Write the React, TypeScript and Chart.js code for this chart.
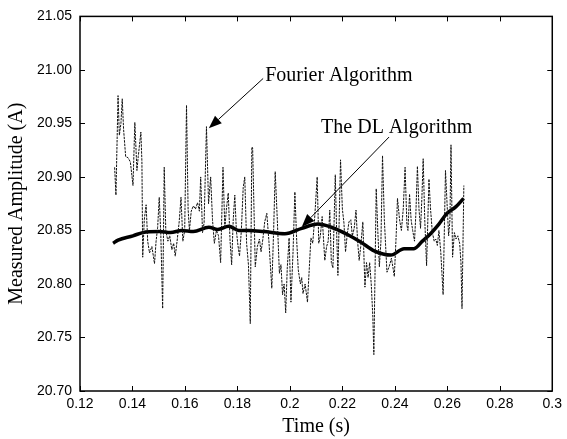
import React, { useEffect, useRef } from "react";
import { Chart, registerables } from "chart.js";

Chart.register(...registerables);

const fourierT = [
  0.1332, 0.1337, 0.1345, 0.135, 0.1356, 0.1361, 0.1366, 0.1374, 0.1383, 0.1392,
  0.1402, 0.1409, 0.1417, 0.1422, 0.1432, 0.1436, 0.1439, 0.1445, 0.1452, 0.1458,
  0.1465, 0.1474, 0.1484, 0.149, 0.1496, 0.1502, 0.1508, 0.1515, 0.1521, 0.1527,
  0.1535, 0.1542, 0.155, 0.1557, 0.1563, 0.157, 0.1578, 0.1585, 0.1592, 0.1599,
  0.1606, 0.1612, 0.1617, 0.1624, 0.1632, 0.164, 0.1648, 0.1655, 0.166, 0.1667,
  0.1673, 0.1682, 0.169, 0.1698, 0.1705, 0.1712, 0.172, 0.1728, 0.1736, 0.1745,
  0.1752, 0.1758, 0.1765, 0.1772, 0.1778, 0.1784, 0.179, 0.1796, 0.1802, 0.1808,
  0.1815, 0.1822, 0.1828, 0.1835, 0.1842, 0.1849, 0.1855, 0.1858, 0.1868, 0.1876,
  0.1884, 0.189, 0.1897, 0.1904, 0.1912, 0.192, 0.1931, 0.1938, 0.1944, 0.1952,
  0.196, 0.1966, 0.1972, 0.1978, 0.1984, 0.199, 0.1997, 0.2004, 0.2012, 0.2019,
  0.2026, 0.2032, 0.204, 0.2045, 0.205, 0.2058, 0.2067, 0.2074, 0.208, 0.2087,
  0.2094, 0.2104, 0.211, 0.2116, 0.2123, 0.2133, 0.214, 0.2146, 0.2152, 0.2158,
  0.2164, 0.2173, 0.2178, 0.2183, 0.2193, 0.22, 0.2206, 0.2212, 0.2218, 0.2225,
  0.2232, 0.2238, 0.2245, 0.2252, 0.2258, 0.2264, 0.227, 0.2278, 0.2286, 0.2292,
  0.2298, 0.2304, 0.231, 0.2316, 0.232, 0.2329, 0.2335, 0.2341, 0.2347, 0.2353,
  0.236, 0.2366, 0.237, 0.2378, 0.2387, 0.2393, 0.2398, 0.2405, 0.241, 0.2418,
  0.2425, 0.2432, 0.2439, 0.2446, 0.245, 0.2456, 0.2462, 0.2468, 0.2475, 0.248,
  0.2486, 0.2492, 0.2498, 0.2503, 0.2508, 0.2514, 0.2521, 0.253, 0.2536, 0.2543,
  0.255, 0.2556, 0.2562, 0.2568, 0.2575, 0.2584, 0.2593, 0.26, 0.2605, 0.261,
  0.2614, 0.262, 0.2627, 0.2633, 0.264, 0.2647, 0.2652, 0.2656, 0.2663,
];

const fourierV = [
  20.909, 20.883, 20.976, 20.939, 20.95, 20.973, 20.945, 20.919, 20.918, 20.914,
  20.892, 20.951, 20.906, 20.919, 20.942, 20.914, 20.825, 20.86, 20.874, 20.84,
  20.829, 20.835, 20.819, 20.84, 20.853, 20.881, 20.846, 20.777, 20.909, 20.85,
  20.84, 20.845, 20.832, 20.838, 20.826, 20.84, 20.858, 20.881, 20.84, 20.85,
  20.967, 20.87, 20.85, 20.868, 20.873, 20.87, 20.876, 20.868, 20.9, 20.848,
  20.857, 20.947, 20.875, 20.9, 20.86, 20.838, 20.85, 20.845, 20.82, 20.909,
  20.852, 20.87, 20.885, 20.84, 20.818, 20.86, 20.883, 20.85, 20.836, 20.826,
  20.85, 20.89, 20.9, 20.838, 20.818, 20.763, 20.928, 20.927, 20.816, 20.835,
  20.842, 20.83, 20.842, 20.858, 20.866, 20.84, 20.796, 20.85, 20.905, 20.86,
  20.81, 20.818, 20.79, 20.8, 20.773, 20.815, 20.843, 20.783, 20.83, 20.886,
  20.84, 20.813, 20.8, 20.806, 20.791, 20.8, 20.783, 20.815, 20.843, 20.838,
  20.86, 20.9, 20.838, 20.845, 20.863, 20.822, 20.835, 20.84, 20.869, 20.82,
  20.815, 20.902, 20.85, 20.808, 20.916, 20.87, 20.857, 20.83, 20.845, 20.858,
  20.86, 20.845, 20.852, 20.869, 20.84, 20.822, 20.835, 20.858, 20.797, 20.82,
  20.806, 20.82, 20.8, 20.77, 20.734, 20.889, 20.85, 20.816, 20.84, 20.92,
  20.86, 20.83, 20.811, 20.816, 20.824, 20.815, 20.807, 20.845, 20.88, 20.86,
  20.85, 20.87, 20.909, 20.855, 20.85, 20.884, 20.86, 20.85, 20.84, 20.865,
  20.91, 20.87, 20.852, 20.88, 20.917, 20.86, 20.817, 20.898, 20.87, 20.848,
  20.84, 20.842, 20.836, 20.85, 20.83, 20.79, 20.906, 20.87, 20.845, 20.86,
  20.93, 20.825, 20.848, 20.842, 20.845, 20.838, 20.82, 20.777, 20.892,
];

const dlT = [
  0.1326, 0.1345, 0.1402, 0.1439, 0.1502, 0.1545, 0.1588, 0.1632, 0.1691, 0.1725,
  0.1767, 0.1805, 0.1843, 0.19, 0.1981, 0.2045, 0.2107, 0.2158, 0.2221, 0.2271,
  0.2321, 0.2385, 0.2435, 0.2473, 0.2505, 0.2536, 0.2568, 0.2599, 0.2632, 0.2662,
];
const dlV = [
  20.838, 20.841, 20.845, 20.848, 20.849, 20.848, 20.85, 20.849, 20.853, 20.851,
  20.854, 20.85, 20.85, 20.849, 20.847, 20.852, 20.856, 20.853, 20.846, 20.839,
  20.831, 20.827, 20.833, 20.833, 20.84, 20.847, 20.856, 20.866, 20.872, 20.88,
];

const xTicks = [0.12, 0.14, 0.16, 0.18, 0.2, 0.22, 0.24, 0.26, 0.28, 0.3];
const yTicks = [20.7, 20.75, 20.8, 20.85, 20.9, 20.95, 21.0, 21.05];

const xTitle = "Time (s)";
const yTitle = "Measured Amplitude (A)";

// annotations: label anchor (t, v), arrow start (t, v), arrow tip (t, v)
const annFourier = { text: "Fourier Algorithm", tx: 0.1906, ty: 20.995, sx: 0.1898, sy: 20.992, ex: 0.1691, ey: 20.9455 };
const annDL = { text: "The DL Algorithm", tx: 0.2119, ty: 20.9455, sx: 0.2378, sy: 20.9373, ex: 0.2045, ey: 20.8533 };

const SERIF = "'Liberation Serif', 'Times New Roman', serif";
const SANS = "'Liberation Sans', Arial, sans-serif";

const fmtX = (v: number) => String(parseFloat(Number(v).toFixed(2)));

const framePlugin = {
  id: "frame",
  afterDatasetsDraw(chart: any) {
    const { ctx, chartArea: a, scales } = chart;
    const xs = scales.x;
    const ys = scales.y;
    ctx.save();
    ctx.strokeStyle = "#000";
    ctx.lineWidth = 1.5;
    ctx.strokeRect(a.left, a.top, a.right - a.left, a.bottom - a.top);
    ctx.lineWidth = 1;
    const tl = 5;
    ctx.beginPath();
    for (const t of xTicks) {
      const px = Math.round(xs.getPixelForValue(t)) + 0.5;
      ctx.moveTo(px, a.bottom);
      ctx.lineTo(px, a.bottom - tl);
      ctx.moveTo(px, a.top);
      ctx.lineTo(px, a.top + tl);
    }
    for (const v of yTicks) {
      const py = Math.round(ys.getPixelForValue(v)) + 0.5;
      ctx.moveTo(a.left, py);
      ctx.lineTo(a.left + tl, py);
      ctx.moveTo(a.right, py);
      ctx.lineTo(a.right - tl, py);
    }
    ctx.stroke();

    const drawAnn = (an: any) => {
      ctx.fillStyle = "#000";
      ctx.font = "20px " + SERIF;
      ctx.textAlign = "left";
      ctx.textBaseline = "middle";
      ctx.fillText(an.text, xs.getPixelForValue(an.tx), ys.getPixelForValue(an.ty));
      const x1 = xs.getPixelForValue(an.sx);
      const y1 = ys.getPixelForValue(an.sy);
      const x2 = xs.getPixelForValue(an.ex);
      const y2 = ys.getPixelForValue(an.ey);
      const ang = Math.atan2(y2 - y1, x2 - x1);
      const hl = 13;
      const hw = 5;
      const bx = x2 - hl * Math.cos(ang);
      const by = y2 - hl * Math.sin(ang);
      ctx.strokeStyle = "#000";
      ctx.lineWidth = 1;
      ctx.beginPath();
      ctx.moveTo(x1, y1);
      ctx.lineTo(bx, by);
      ctx.stroke();
      ctx.beginPath();
      ctx.moveTo(x2, y2);
      ctx.lineTo(bx + hw * Math.sin(ang), by - hw * Math.cos(ang));
      ctx.lineTo(bx - hw * Math.sin(ang), by + hw * Math.cos(ang));
      ctx.closePath();
      ctx.fill();
    };
    drawAnn(annFourier);
    drawAnn(annDL);
    ctx.restore();
  },
};

export default function App() {
  const ref = useRef<HTMLCanvasElement | null>(null);
  useEffect(() => {
    if (!ref.current) return;
    const chart = new Chart(ref.current, {
      type: "line",
      data: {
        datasets: [
          {
            label: "Fourier Algorithm",
            data: fourierT.map((t, i) => ({ x: t, y: fourierV[i] })),
            borderColor: "#111",
            borderWidth: 1,
            borderDash: [2.5, 1],
            pointRadius: 0,
            tension: 0,
            fill: false,
          },
          {
            label: "The DL Algorithm",
            data: dlT.map((t, i) => ({ x: t, y: dlV[i] })),
            borderColor: "#000",
            borderWidth: 3.5,
            pointRadius: 0,
            tension: 0.4,
            cubicInterpolationMode: "monotone",
            fill: false,
          },
        ],
      },
      options: {
        animation: false,
        responsive: false,
        layout: { padding: { top: 16, right: 11, left: 0, bottom: 0 } },
        plugins: { legend: { display: false }, tooltip: { enabled: false } },
        scales: {
          x: {
            type: "linear",
            min: 0.12,
            max: 0.3,
            afterBuildTicks: (s: any) => {
              s.ticks = xTicks.map((v) => ({ value: v }));
            },
            afterFit: (s: any) => {
              s.height = 48;
            },
            grid: { display: false, drawTicks: false },
            border: { display: false },
            ticks: {
              color: "#000",
              font: { family: SANS, size: 14 },
              padding: 5,
              maxRotation: 0,
              autoSkip: false,
              callback: (v: any) => fmtX(v),
            },
            title: {
              display: true,
              text: xTitle,
              color: "#000",
              font: { family: SERIF, size: 20, lineHeight: 1.2 },
              padding: { top: 0, bottom: 0 },
            },
          },
          y: {
            type: "linear",
            min: 20.7,
            max: 21.05,
            afterBuildTicks: (s: any) => {
              s.ticks = yTicks.map((v) => ({ value: v }));
            },
            afterFit: (s: any) => {
              s.width = 80;
            },
            grid: { display: false, drawTicks: false },
            border: { display: false },
            ticks: {
              color: "#000",
              font: { family: SANS, size: 14 },
              padding: 8,
              autoSkip: false,
              callback: (v: any) => Number(v).toFixed(2),
            },
            title: {
              display: true,
              text: yTitle,
              color: "#000",
              font: { family: SERIF, size: 20, lineHeight: 1.2 },
              padding: { top: 5, bottom: 0 },
            },
          },
        },
      },
      plugins: [framePlugin],
    } as any);
    return () => chart.destroy();
  }, []);
  return (
    <div style={{ position: "fixed", left: 0, top: 0, width: 567, height: 439, background: "#fff" }}>
      <canvas ref={ref} width={567} height={439} />
    </div>
  );
}
